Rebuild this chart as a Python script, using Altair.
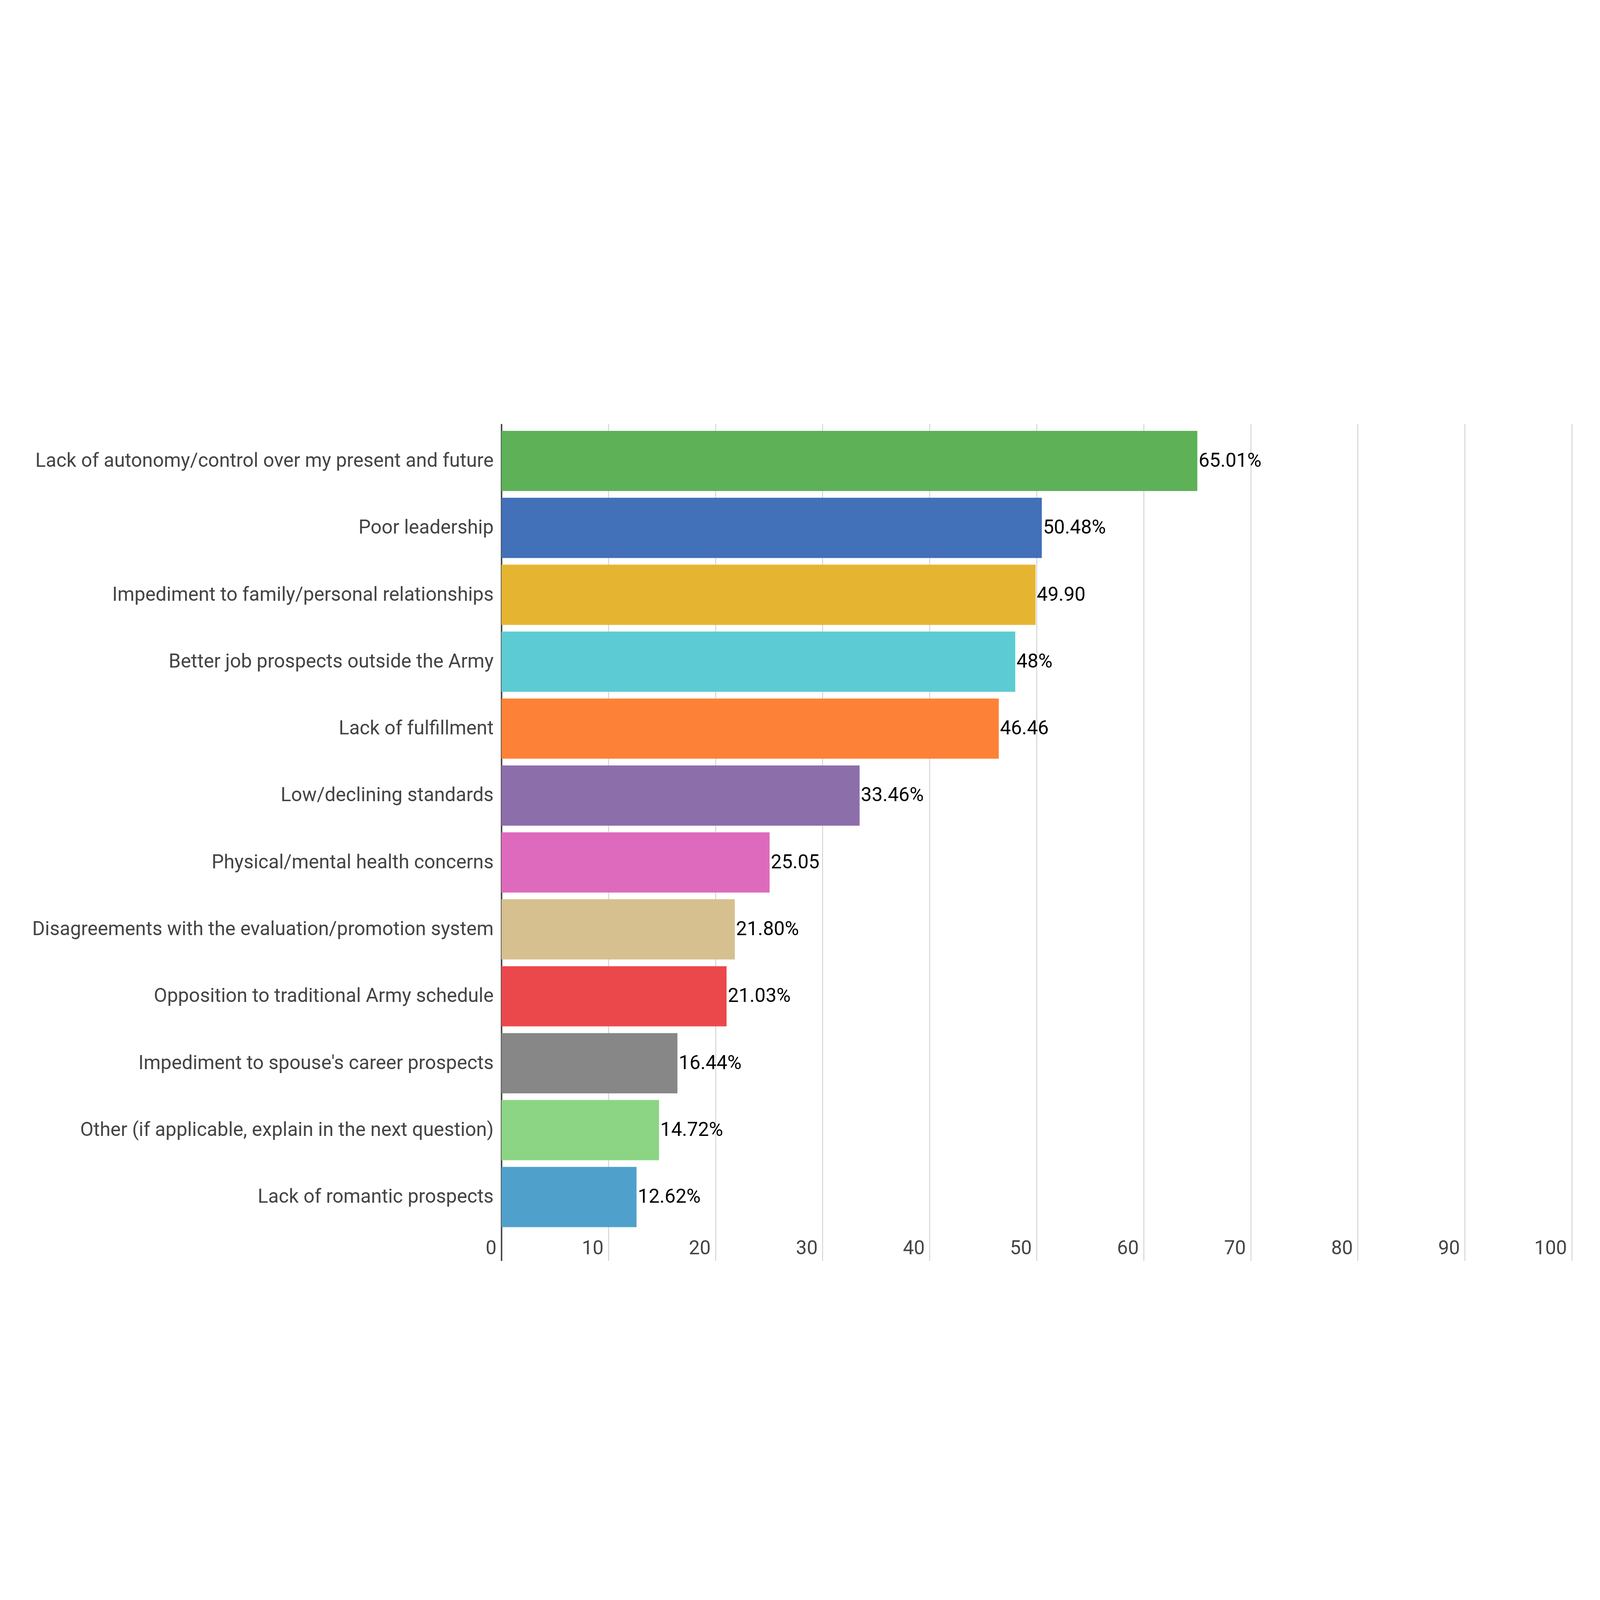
import altair as alt
import pandas as pd

categories = [
    "Lack of autonomy/control over my present and future",
    "Poor leadership",
    "Impediment to family/personal relationships",
    "Better job prospects outside the Army",
    "Lack of fulfillment",
    "Low/declining standards",
    "Physical/mental health concerns",
    "Disagreements with the evaluation/promotion system",
    "Opposition to traditional Army schedule",
    "Impediment to spouse's career prospects",
    "Other (if applicable, explain in the next question)",
    "Lack of romantic prospects",
]
values = [65.01, 50.48, 49.90, 48, 46.46, 33.46, 25.05, 21.80, 21.03, 16.44, 14.72, 12.62]
value_labels = ["65.01%", "50.48%", "49.90", "48%", "46.46", "33.46%", "25.05",
                "21.80%", "21.03%", "16.44%", "14.72%", "12.62%"]
colors = ["#5eb157", "#4270b9", "#e5b532", "#5dcbd3", "#fd8237", "#8c6eaa",
          "#de6abd", "#d6c08f", "#eb484c", "#878787", "#8cd585", "#4fa1cc"]
x_ticks = [0, 10, 20, 30, 40, 50, 60, 70, 80, 90, 100]

df = pd.DataFrame({"reason": categories, "pct": values, "label": value_labels})

font = "Roboto"
fsize = 93

base = alt.Chart(df).encode(
    alt.Y("reason:N", sort=categories, title=None)
        .scale(paddingInner=0.1, paddingOuter=0.303, align=0.17)
        .axis(ticks=False, grid=False, domainColor="#444444", domainWidth=7,
              labelFont=font, labelFontSize=fsize, labelColor="#444444",
              labelPadding=38, labelLimit=4000),
)

bars = base.mark_bar().encode(
    alt.X("pct:Q", title=None)
        .scale(domain=[0, 100], nice=False)
        .axis(values=x_ticks, domain=False, ticks=False, tickSize=0,
              gridColor="#cfcfcf", gridWidth=4,
              labelFont=font, labelFontSize=fsize, labelColor="#444444",
              labelAlign="right", labelBaseline="middle",
              labelOffset=-24, labelPadding=-60, labelFlush=False),
    color=alt.Color("reason:N", legend=None).scale(domain=categories, range=colors),
)

text = base.mark_text(align="left", baseline="middle", dx=6, font=font,
                      fontSize=fsize, color="black").encode(
    x="pct:Q",
    text="label:N",
)

chart = (bars + text).properties(
    width=5138,
    height=4017,
    autosize=alt.AutoSizeParams(type="none"),
    padding={"left": 2392, "top": 143, "right": 120, "bottom": 130},
).configure_view(stroke="transparent")

chart.save("out.html", embed_options={"renderer": "svg", "actions": False})
